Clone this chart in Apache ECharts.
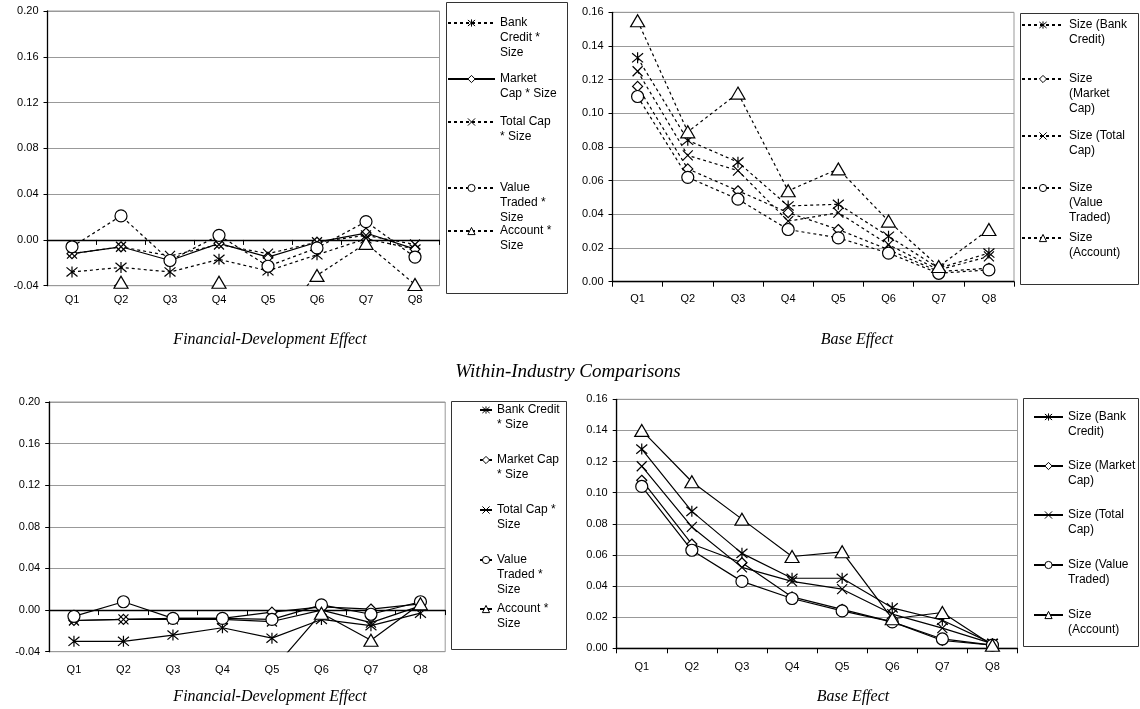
<!DOCTYPE html>
<html>
<head>
<meta charset="utf-8">
<script src="https://cdn.jsdelivr.net/npm/echarts@6/dist/echarts.min.js"></script>
<style>
  html, body { margin: 0; padding: 0; background: #fff; }
  #chart { width: 1140px; height: 709px; }
</style>
</head>
<body>
<div id="chart"></div>
<script>
const quarters = ["Q1", "Q2", "Q3", "Q4", "Q5", "Q6", "Q7", "Q8"];

// top row, financial-development effect
const topFdBank = [-0.028, -0.024, -0.028, -0.017, -0.027, -0.013, 0.001, -0.008];
const topFdMarket = [-0.012, -0.006, -0.018, -0.003, -0.015, -0.002, 0.006, -0.008];
const topFdTotal = [-0.012, -0.006, -0.014, -0.004, -0.012, -0.002, 0.004, -0.004];
const topFdValue = [-0.006, 0.021, -0.018, 0.004, -0.023, -0.007, 0.016, -0.015];
const topFdAccount = [-0.06, -0.037, -0.065, -0.037, -0.075, -0.031, -0.003, -0.039];

// top row, base effect
const topBaseBank = [0.133, 0.084, 0.071, 0.045, 0.046, 0.027, 0.008, 0.017];
const topBaseMarket = [0.116, 0.067, 0.054, 0.041, 0.031, 0.019, 0.006, 0.008];
const topBaseTotal = [0.125, 0.075, 0.066, 0.036, 0.041, 0.022, 0.007, 0.015];
const topBaseValue = [0.110, 0.062, 0.049, 0.031, 0.026, 0.017, 0.005, 0.007];
const topBaseAccount = [0.155, 0.089, 0.112, 0.054, 0.067, 0.036, 0.009, 0.031];

// bottom row, financial-development effect
const botFdBank = [-0.030, -0.030, -0.024, -0.017, -0.027, -0.009, -0.015, -0.003];
const botFdMarket = [-0.010, -0.009, -0.008, -0.008, -0.002, 0.003, 0.001, 0.006];
const botFdTotal = [-0.010, -0.009, -0.009, -0.009, -0.011, 0.000, -0.012, 0.004];
const botFdValue = [-0.006, 0.008, -0.008, -0.008, -0.009, 0.005, -0.004, 0.008];
const botFdAccount = [-0.065, -0.07, -0.061, -0.042, -0.058, -0.003, -0.029, 0.006];

// bottom row, base effect
const botBaseBank = [0.128, 0.088, 0.061, 0.045, 0.045, 0.026, 0.018, 0.003];
const botBaseMarket = [0.108, 0.067, 0.055, 0.033, 0.025, 0.017, 0.005, 0.002];
const botBaseTotal = [0.117, 0.078, 0.052, 0.043, 0.038, 0.022, 0.013, 0.003];
const botBaseValue = [0.104, 0.063, 0.043, 0.032, 0.024, 0.017, 0.006, 0.002];
const botBaseAccount = [0.140, 0.107, 0.083, 0.059, 0.062, 0.019, 0.023, 0.002];

const fdNames = ["Bank Credit * Size", "Market Cap * Size", "Total Cap * Size", "Value Traded * Size", "Account * Size"];
const baseNames = ["Size (Bank Credit)", "Size (Market Cap)", "Size (Total Cap)", "Size (Value Traded)", "Size (Account)"];
const topFdLabels = ["Bank\nCredit *\nSize", "Market\nCap * Size", "Total Cap\n* Size", "Value\nTraded *\nSize", "Account *\nSize"];
const topBaseLabels = ["Size (Bank\nCredit)", "Size\n(Market\nCap)", "Size (Total\nCap)", "Size\n(Value\nTraded)", "Size\n(Account)"];
const botFdLabels = ["Bank Credit\n* Size", "Market Cap\n* Size", "Total Cap *\nSize", "Value\nTraded *\nSize", "Account *\nSize"];
const botBaseLabels = ["Size (Bank\nCredit)", "Size (Market\nCap)", "Size (Total\nCap)", "Size (Value\nTraded)", "Size\n(Account)"];

const panelTitles = ["Financial-Development Effect", "Base Effect", "Within-Industry Comparisons"];

// markers: asterisk, diamond, x, circle, triangle
const symbols = [
  "path://M0,0L10,10M10,0L0,10M5,-1L5,11",
  "diamond",
  "path://M0,0L10,10M10,0L0,10",
  "circle",
  "triangle",
];
const symbolSizes = [11, 10, 10, 12, [14, 12]];

const sansFont = "Liberation Sans";
const serifFont = "Liberation Serif";
const lh = 15;

const grids = [
  { left: 47.5, top: 11, width: 392, height: 274.7 },
  { left: 612.5, top: 12.3, width: 401.5, height: 269.4 },
  { left: 49.2, top: 402, width: 396, height: 249.7 },
  { left: 616.7, top: 399.3, width: 400.8, height: 249 },
];

const makeX = (gi, margin) => ({
  type: "category",
  gridIndex: gi,
  data: quarters,
  boundaryGap: true,
  axisLine: { lineStyle: { color: "#000", width: 1.3 } },
  axisTick: { show: true, length: 5, lineStyle: { color: "#000" } },
  axisLabel: { color: "#000", fontSize: 11, fontFamily: sansFont, margin: margin },
  splitLine: { show: false },
});

const makeY = (gi, min, max, interval) => ({
  type: "value",
  gridIndex: gi,
  min: min,
  max: max,
  interval: interval,
  axisLine: { show: true, lineStyle: { color: "#000", width: 1.3 } },
  axisTick: { show: true, length: 4, lineStyle: { color: "#000" } },
  axisLabel: {
    color: "#000",
    fontSize: 11,
    fontFamily: sansFont,
    margin: 9,
    formatter: (v) => v.toFixed(2),
  },
  splitLine: { show: true, lineStyle: { color: "#999", width: 1 } },
});

const makeSeries = (id, name, data, k, dashed, gi) => ({
  id: id,
  type: "line",
  name: name,
  data: data,
  xAxisIndex: gi,
  yAxisIndex: gi,
  symbol: symbols[k],
  symbolSize: symbolSizes[k],
  showAllSymbol: true,
  clip: true,
  lineStyle: { color: "#000", width: 1.2, type: dashed ? [3, 3] : "solid" },
  itemStyle: { color: "#fff", borderColor: "#000", borderWidth: 1.2 },
  emphasis: { disabled: true },
});

let series = [];
let legends = [];
const panels = [
  { key: "tf", data: [topFdBank, topFdMarket, topFdTotal, topFdValue, topFdAccount], names: fdNames, labels: topFdLabels, dashed: [true, false, true, true, true], rows: [23, 79, 122, 188, 231], left: 447, iw: 47 },
  { key: "tb", data: [topBaseBank, topBaseMarket, topBaseTotal, topBaseValue, topBaseAccount], names: baseNames, labels: topBaseLabels, dashed: [true, true, true, true, true], rows: [25, 79, 136, 188, 238], left: 1021, iw: 42 },
  { key: "bf", data: [botFdBank, botFdMarket, botFdTotal, botFdValue, botFdAccount], names: fdNames, labels: botFdLabels, dashed: [false, false, false, false, false], rows: [410, 460, 510, 560, 609], left: 479, iw: 12 },
  { key: "bb", data: [botBaseBank, botBaseMarket, botBaseTotal, botBaseValue, botBaseAccount], names: baseNames, labels: botBaseLabels, dashed: [false, false, false, false, false], rows: [417, 466, 515, 565, 615], left: 1033, iw: 29 },
];

panels.forEach((p, gi) => {
  p.data.forEach((d, k) => {
    const sname = p.key + ": " + p.names[k];
    series.push(makeSeries(p.key + k, sname, d, k, p.dashed[k], gi));
    const n = p.labels[k].split("\n").length;
    // blank lines in front so the marker (centred on the text) sits on the first line
    const label = " \n".repeat(n - 1) + p.labels[k];
    legends.push({
      data: [sname],
      left: p.left,
      top: p.rows[k] - ((2 * n - 1) * lh) / 2,
      orient: "vertical",
      padding: 0,
      itemWidth: p.iw,
      itemHeight: 9,
      selectedMode: false,
      itemStyle: { borderWidth: 1 },
      formatter: () => label,
      textStyle: {
        color: "#000",
        fontSize: 12,
        fontFamily: sansFont,
        lineHeight: lh,
      },
    });
  });
});

const titleText = (text, x, y, size) => ({
  type: "text",
  x: x,
  y: y,
  style: {
    text: text,
    fontSize: size,
    fontStyle: "italic",
    fontFamily: serifFont,
    fill: "#000",
    align: "center",
    verticalAlign: "middle",
  },
});

const legendBox = (x, y, w, h) => ({
  type: "rect",
  z: -1,
  shape: { x: x, y: y, width: w, height: h },
  style: { fill: "none", stroke: "#333", lineWidth: 1 },
});

let option = {
  animation: false,
  backgroundColor: "#fff",
  grid: grids.map((g) => Object.assign({ show: true, borderColor: "#999", borderWidth: 1, backgroundColor: "#fff" }, g)),
  xAxis: [makeX(0, 9), makeX(1, 12), makeX(2, 13), makeX(3, 13)],
  yAxis: [makeY(0, -0.04, 0.2, 0.04), makeY(1, 0, 0.16, 0.02), makeY(2, -0.04, 0.2, 0.04), makeY(3, 0, 0.16, 0.02)],
  legend: legends,
  series: series,
  graphic: [
    legendBox(446.5, 2.5, 121, 291),
    legendBox(1020.5, 13.5, 118, 271),
    legendBox(451.5, 401.5, 115, 248),
    legendBox(1023.5, 398.5, 115, 248),
    titleText(panelTitles[0], 270, 340, 16),
    titleText(panelTitles[1], 857, 340, 16),
    titleText(panelTitles[2], 568, 372, 19),
    titleText(panelTitles[0], 270, 697, 16),
    titleText(panelTitles[1], 853, 697, 16),
  ],
};

const init = () => {
  const chart = echarts.init(document.getElementById("chart"));
  chart.setOption(option);
};
init();
</script>
</body>
</html>
